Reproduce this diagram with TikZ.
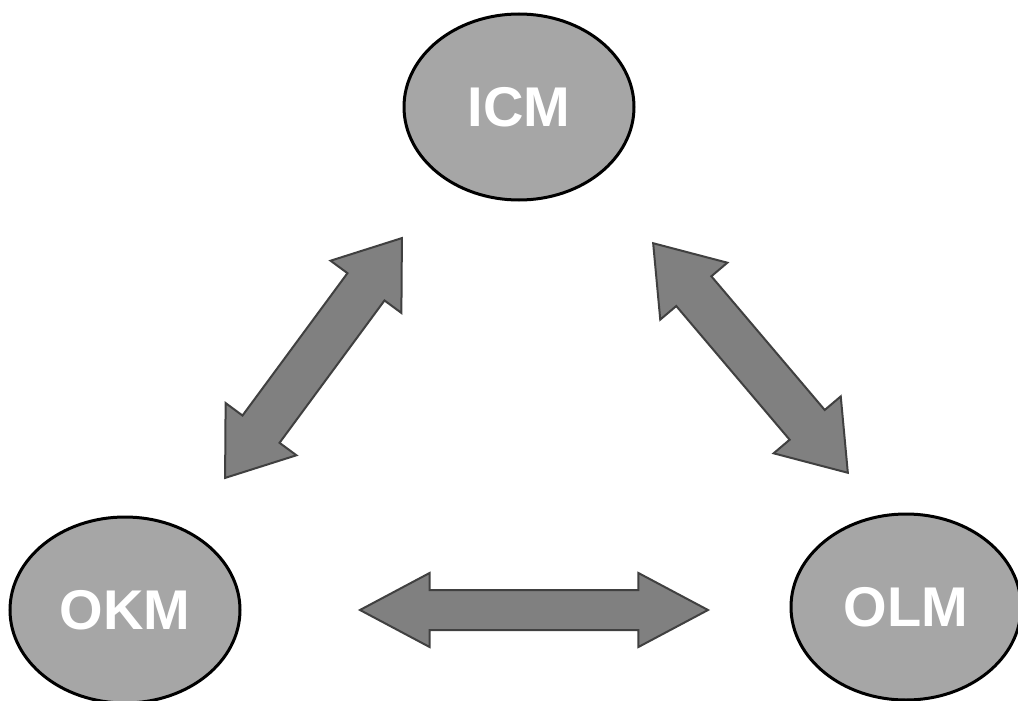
\documentclass[tikz,border=0pt]{standalone}
\usepackage{fontspec}
\setmainfont{Liberation Sans}
\usetikzlibrary{shapes.geometric,shapes.arrows}

\begin{document}
\begin{tikzpicture}[x=1pt,y=-1pt,
	blob/.style={ellipse,draw=black,line width=3pt,fill=gray!70,minimum width=230pt,minimum height=186pt,
		text=white,font=\fontsize{56}{60}\selectfont\bfseries},
	darrow/.style={double arrow,draw=black!75,line width=2pt,fill=black!50,inner xsep=0pt}]
	\useasboundingbox (0,0) rectangle (1018,701);
	
	\node[blob] (icm) at (519,107) {ICM};
	\node[blob] (okm) at (125,610) {OKM};
	\node[blob] (olm) at (906,607) {OLM};
	
	\node[darrow,inner ysep=22pt,minimum height=298pt,minimum width=86pt,double arrow head extend=21pt,
		double arrow tip angle=72,rotate=53.6] (ak) at (313.5,358) {};
	\node[darrow,inner ysep=22pt,minimum height=301pt,minimum width=85pt,double arrow head extend=21pt,
		double arrow tip angle=70,rotate=-49.7] (al) at (750.5,358) {};
	\node[darrow,inner ysep=19pt,minimum height=348pt,minimum width=73pt,double arrow head extend=17pt,
		double arrow tip angle=56] (kl) at (534,610) {};
\end{tikzpicture}
\end{document}
